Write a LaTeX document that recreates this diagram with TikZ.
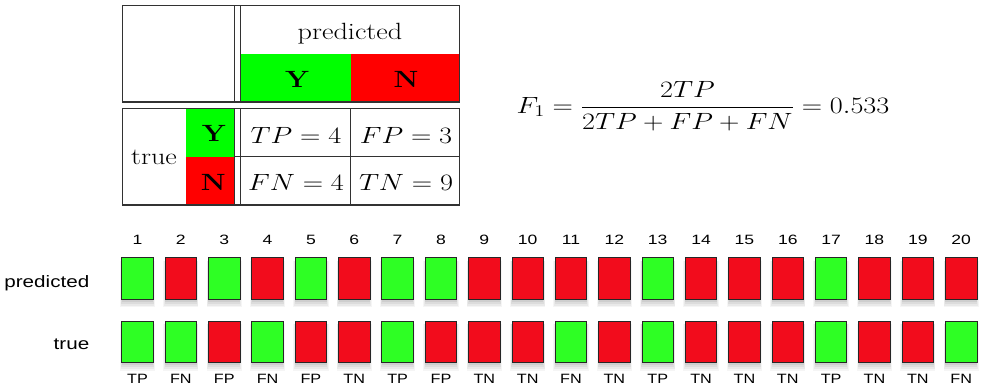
\RequirePackage{fix-cm}
\documentclass[tikz,border=0pt]{standalone}
\usepackage{amsmath}
\usepackage{fontspec}
\newfontfamily\labelfont{Liberation Sans}
\usepackage{xcolor}
\usetikzlibrary{shadows}

\definecolor{cellgreen}{RGB}{0,255,0}
\definecolor{cellred}{RGB}{255,0,0}
\definecolor{boxgreen}{RGB}{46,255,36}
\definecolor{boxred}{RGB}{242,12,28}
\definecolor{rulegray}{RGB}{50,50,50}

\tikzset{
  rule/.style={rulegray, line width=1.3pt},
  tabtext/.style={font=\fontsize{23.5}{28}\selectfont, xscale=1.2, inner sep=0pt},
  rowtext/.style={font=\labelfont\fontsize{16.5}{19}\selectfont, xscale=1.25, inner sep=0pt},
  numtext/.style={font=\labelfont\fontsize{13.5}{15}\selectfont, xscale=1.3, inner sep=0pt},
  keytext/.style={font=\labelfont\fontsize{13.5}{15}\selectfont, xscale=1.2, inner sep=0pt},
  % soft shadow built from a few faint layers
  softshadow/.style={
    drop shadow={shadow xshift=0pt, shadow yshift=-5pt, opacity=0.08, shadow scale=1.12},
    drop shadow={shadow xshift=0pt, shadow yshift=-4.5pt, opacity=0.1, shadow scale=1.07},
    drop shadow={shadow xshift=0pt, shadow yshift=-4pt, opacity=0.12, shadow scale=1.03},
    drop shadow={shadow xshift=0pt, shadow yshift=-3pt, opacity=0.15}},
  sqbox/.style={draw=black!85, line width=0.8pt, inner sep=0pt,
    minimum width=31.5pt, minimum height=41.5pt, softshadow},
  sqyes/.style={sqbox, fill=boxgreen},
  sqno/.style={sqbox, fill=boxred}
}

\begin{document}
\begin{tikzpicture}[x=1pt, y=-1pt]
  \useasboundingbox (0,0) rectangle (981,388);

  % Header box: predicted Y / N
  \fill[cellgreen] (240.5,54) rectangle (350.7,102);
  \fill[cellred] (350.7,54) rectangle (459.3,102);
  \draw[rule] (122.3,5.7) rectangle (459.3,102);
  \draw[rule] (234.3,5.7) -- (234.3,102) (240.5,5.7) -- (240.5,102);
  \node[tabtext, anchor=base] (predhead) at (350,39) {predicted};
  \node[tabtext, anchor=base] (predY) at (297,87.3) {\textbf{Y}};
  \node[tabtext, anchor=base] (predN) at (406,87.3) {\textbf{N}};

  % Body box: true Y / N and the four counts
  \fill[cellgreen] (185.7,108.3) rectangle (234.3,156.7);
  \fill[cellred] (185.7,156.7) rectangle (234.3,205);
  \draw[rule] (122.3,108.3) rectangle (459.3,205);
  \draw[rule] (234.3,108.3) -- (234.3,205) (240.5,108.3) -- (240.5,205);
  \draw[rule] (234.3,156.7) -- (459.3,156.7);
  \draw[rule] (350.7,108.3) -- (350.7,205);
  \node[tabtext, anchor=base] (truehead) at (154,164) {true};
  \node[tabtext, anchor=base east] (trueY) at (226,141.7) {\textbf{Y}};
  \node[tabtext, anchor=base east] (trueN) at (226,190.7) {\textbf{N}};
  \node[tabtext, anchor=base] (tp) at (296,143) {$TP=4$};
  \node[tabtext, anchor=base] (fp) at (406,143) {$FP=3$};
  \node[tabtext, anchor=base] (fn) at (296,190.7) {$FN=4$};
  \node[tabtext, anchor=base] (tn) at (406,190.7) {$TN=9$};

  % F1 score
  \node[tabtext, anchor=base] (fone) at (703,113)
    {$\displaystyle F_1=\frac{2TP}{2TP+FP+FN}=0.533$};

  % Row labels
  \node[rowtext, anchor=base east] (predrow) at (89.5,287) {predicted};
  \node[rowtext, anchor=base east] (truerow) at (89.5,349.5) {true};

  % The 20 samples: predicted, true, outcome
  \foreach \i/\p/\t/\k in {1/yes/yes/TP, 2/no/yes/FN, 3/yes/no/FP, 4/no/yes/FN,
      5/yes/no/FP, 6/no/no/TN, 7/yes/yes/TP, 8/yes/no/FP, 9/no/no/TN,
      10/no/no/TN, 11/no/yes/FN, 12/no/no/TN, 13/yes/yes/TP, 14/no/no/TN,
      15/no/no/TN, 16/no/no/TN, 17/yes/yes/TP, 18/no/no/TN, 19/no/no/TN,
      20/no/yes/FN} {
    \pgfmathsetmacro{\cx}{137.5+(\i-1)*43.35}
    \node[sq\p] (p\i) at (\cx,278.5) {};
    \node[sq\t] (t\i) at (\cx,341.7) {};
    \node[numtext, anchor=base] (n\i) at (\cx,244.3) {\i};
    \node[keytext, anchor=base] (k\i) at (\cx,383.3) {\k};
  }
\end{tikzpicture}
\end{document}
